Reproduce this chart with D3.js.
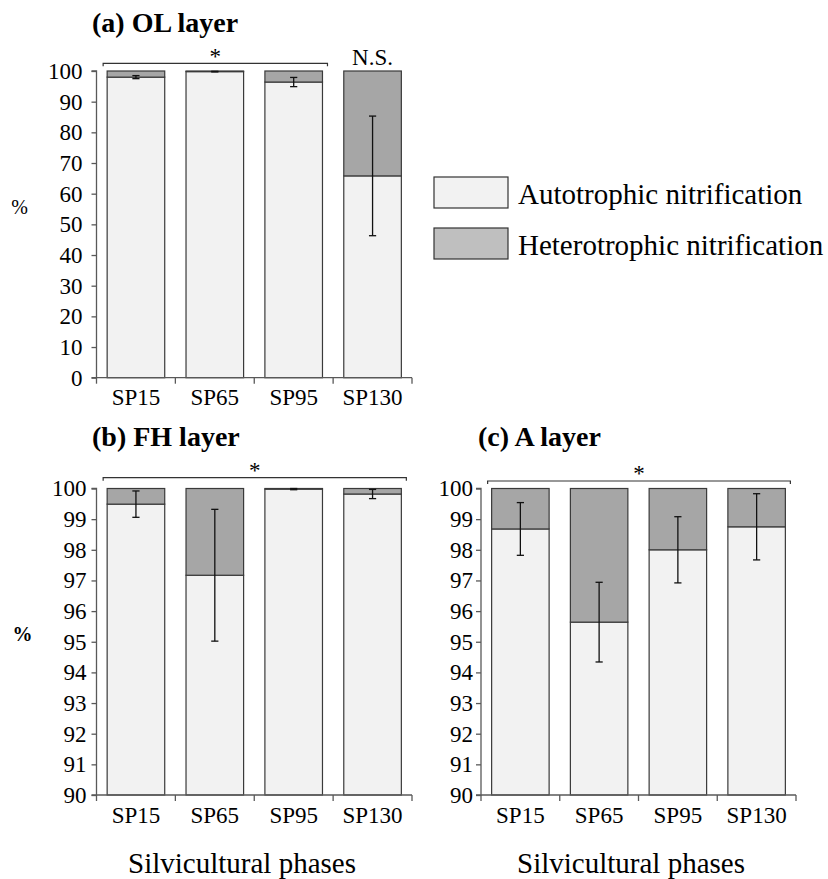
<!DOCTYPE html>
<html>
<head><meta charset="utf-8"><script src="https://cdn.jsdelivr.net/npm/d3@7"></script></head>
<body style="margin:0">
<svg id="chart" width="828" height="879"></svg>
<script>
// ---------------- DATA ----------------
const categories = ["SP15", "SP65", "SP95", "SP130"];
const seriesNames = ["Autotrophic nitrification", "Heterotrophic nitrification"];

// (a) OL layer: autotrophic share (%) and error
const olAuto = [98.0, 99.8, 96.4, 65.8];
const olErr  = [0.5, 0.1, 1.5, 19.5];

// (b) FH layer
const fhAuto = [99.49, 97.17, 99.98, 99.82];
const fhErr  = [0.43, 2.15, 0.02, 0.15];

// (c) A layer
const aAuto = [98.68, 95.64, 98.0, 98.75];
const aErr  = [0.86, 1.3, 1.08, 1.08];

const olTicks = [0, 10, 20, 30, 40, 50, 60, 70, 80, 90, 100];
const subTicks = [90, 91, 92, 93, 94, 95, 96, 97, 98, 99, 100];

const panelTitles = ["(a) OL layer", "(b) FH layer", "(c) A layer"];
const xTitle = "Silvicultural phases";
const yTitle = "%";
const sigLabels = ["*", "N.S.", "*", "*"];

// ---------------- STYLE ----------------
const autoFill = "#f2f2f2";
const hetFill = "#a6a6a6";
const hetLegendFill = "#bfbfbf";
const barStroke = "#3a3a3a";
const axisColor = "#595959";

const svg = d3.select("#chart");

function txt(sel, size, bold) {
  sel.attr("font-size", size).style("font-family", '"Liberation Serif"');
  if (bold) sel.attr("font-weight", "bold");
  return sel;
}

function drawPanel(cfg) {
  const g = svg.append("g");
  const x = d3.scaleBand().domain(categories).range([cfg.x0, cfg.x1]).paddingInner(0.27).paddingOuter(0.135);
  const xb = d3.scaleBand().domain(categories).range([cfg.x0, cfg.x1]).padding(0);
  const y = d3.scaleLinear().domain(cfg.domain).range([cfg.yBottom, cfg.yTop]);

  const rows = categories.map((c, i) => ({ cat: c, auto: cfg.auto[i], het: 100 - cfg.auto[i], err: cfg.err[i] }));
  const stacked = d3.stack().keys(["auto", "het"]).offset((series) => {
    for (let j = 0; j < series[0].length; j++) {
      const a = series[0][j].data.auto;
      series[0][j][0] = cfg.domain[0];
      series[0][j][1] = a;
      series[1][j][0] = a;
      series[1][j][1] = 100;
    }
  })(rows);

  const fills = [autoFill, hetFill];
  stacked.forEach((layer, li) => {
    g.append("g").selectAll("rect").data(layer).join("rect")
      .attr("x", d => x(d.data.cat))
      .attr("width", x.bandwidth())
      .attr("y", d => y(d[1]))
      .attr("height", d => Math.max(0, y(d[0]) - y(d[1])))
      .attr("fill", fills[li])
      .attr("stroke", barStroke)
      .attr("stroke-width", 1.2);
  });

  // error bars
  const eg = g.append("g").attr("stroke", "#111").attr("stroke-width", 1.3);
  rows.forEach(r => {
    const cx = x(r.cat) + x.bandwidth() / 2;
    const hi = Math.min(r.auto + r.err, 100);
    const lo = r.auto - r.err;
    eg.append("line").attr("x1", cx).attr("x2", cx).attr("y1", y(hi)).attr("y2", y(lo));
    eg.append("line").attr("x1", cx - 3.6).attr("x2", cx + 3.6).attr("y1", y(hi)).attr("y2", y(hi));
    eg.append("line").attr("x1", cx - 3.6).attr("x2", cx + 3.6).attr("y1", y(lo)).attr("y2", y(lo));
  });

  // y axis
  const yAxis = d3.axisLeft(y).tickValues(cfg.ticks).tickSize(5).tickPadding(cfg.tickPad).tickFormat(d3.format("d"));
  const ya = g.append("g").attr("transform", `translate(${cfg.x0},0)`).call(yAxis);
  ya.attr("font-family", null).attr("font-size", null);
  ya.select(".domain").attr("stroke", axisColor).attr("stroke-width", 1.3).attr("d", `M-5,${cfg.yTop}H0V${cfg.yBottom}H-5`);
  ya.selectAll(".tick line").attr("stroke", axisColor).attr("stroke-width", 1.3);
  txt(ya.selectAll(".tick text"), 23);

  // x axis: ticks at band boundaries
  const xa = g.append("g").attr("transform", `translate(0,${cfg.yBottom})`);
  xa.append("line").attr("x1", cfg.x0).attr("x2", cfg.x1).attr("y1", 0).attr("y2", 0)
    .attr("stroke", axisColor).attr("stroke-width", 1.3);
  const bounds = categories.map(c => xb(c)).concat([cfg.x1]);
  xa.selectAll("line.tk").data(bounds).join("line").attr("class", "tk")
    .attr("x1", d => d).attr("x2", d => d).attr("y1", 0).attr("y2", 6)
    .attr("stroke", axisColor).attr("stroke-width", 1.3);
  txt(xa.selectAll("text").data(categories).join("text")
    .attr("x", d => xb(d) + xb.bandwidth() / 2)
    .attr("y", 27.5)
    .attr("text-anchor", "middle"), 23)
    .text(d => d);

  // title
  txt(g.append("text").attr("x", cfg.titleX).attr("y", cfg.titleY), 28, true).text(cfg.title);

  // significance brackets
  cfg.brackets.forEach(b => {
    const xs = x(b.from);
    const xe = x(b.to) + x.bandwidth();
    const bx0 = xs - 4, bx1 = xe + 5;
    g.append("path")
      .attr("d", `M${bx0},${b.y + 3}V${b.y}H${bx1}V${b.y + 3}`)
      .attr("fill", "none").attr("stroke", "#333").attr("stroke-width", 1.2);
    txt(g.append("text").attr("x", (bx0 + bx1) / 2).attr("y", b.y + b.labelDy)
      .attr("text-anchor", "middle"), 23).text(b.label);
  });
  (cfg.labels || []).forEach(l => {
    txt(g.append("text").attr("x", x(l.cat) + x.bandwidth() / 2).attr("y", l.y)
      .attr("text-anchor", "middle"), 23).text(l.label);
  });

  if (cfg.yTitle) {
    txt(g.append("text").attr("x", cfg.yTitle.x).attr("y", cfg.yTitle.y)
      .attr("text-anchor", "middle"), 20, cfg.yTitle.bold).text(yTitle);
  }
  if (cfg.xTitle) {
    txt(g.append("text").attr("x", cfg.xTitle.x).attr("y", cfg.xTitle.y)
      .attr("text-anchor", "middle"), 29).text(xTitle);
  }
}

drawPanel({
  x0: 96.5, x1: 412, yTop: 71, yBottom: 377.7, domain: [0, 100], ticks: olTicks, tickPad: 9,
  auto: olAuto, err: olErr, title: panelTitles[0], titleX: 92, titleY: 31.5,
  brackets: [{ from: "SP15", to: "SP95", y: 63.3, label: sigLabels[0], labelDy: 1 }],
  labels: [{ cat: "SP130", y: 65, label: sigLabels[1] }],
  yTitle: { x: 19.5, y: 214, bold: false }
});

drawPanel({
  x0: 96.5, x1: 412, yTop: 488.5, yBottom: 795, domain: [90, 100], ticks: subTicks, tickPad: 5,
  auto: fhAuto, err: fhErr, title: panelTitles[1], titleX: 92, titleY: 446,
  brackets: [{ from: "SP15", to: "SP130", y: 477.7, label: sigLabels[2], labelDy: 0 }],
  yTitle: { x: 22.5, y: 641, bold: true },
  xTitle: { x: 242, y: 873 }
});

drawPanel({
  x0: 481, x1: 796, yTop: 488.5, yBottom: 795, domain: [90, 100], ticks: subTicks, tickPad: 3,
  auto: aAuto, err: aErr, title: panelTitles[2], titleX: 478, titleY: 446,
  brackets: [{ from: "SP15", to: "SP130", y: 481, label: sigLabels[3], labelDy: 0 }],
  xTitle: { x: 631, y: 873 }
});

// legend
const legendFills = [autoFill, hetLegendFill];
const lg = svg.append("g");
seriesNames.forEach((name, i) => {
  lg.append("rect").attr("x", 434).attr("y", 177 + i * 51).attr("width", 74).attr("height", 31)
    .attr("fill", legendFills[i]).attr("stroke", "#333").attr("stroke-width", 1.2);
  txt(lg.append("text").attr("x", 518).attr("y", 204 + i * 51), 29).text(name);
});
</script>
</body>
</html>
